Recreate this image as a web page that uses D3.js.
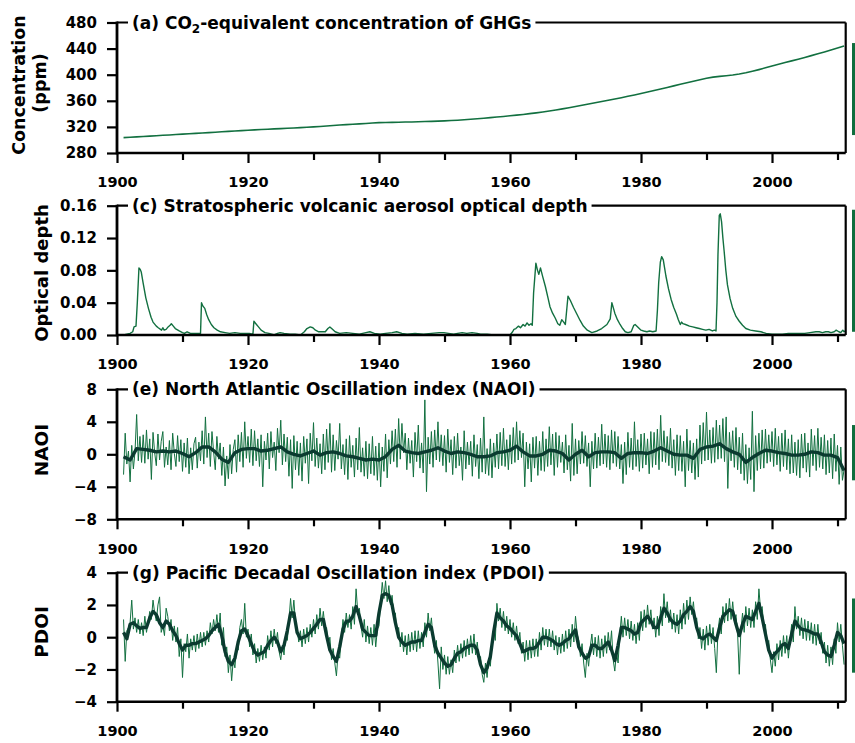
<!DOCTYPE html>
<html>
<head>
<meta charset="utf-8">
<script src="https://cdn.jsdelivr.net/npm/d3@7/dist/d3.min.js"></script>
<style>
  body { margin: 0; background: #fff; }
  svg { display: block; }
  .tick text { font-family: "DejaVu Sans", Verdana, sans-serif; font-weight: bold; fill: #000; }
</style>
</head>
<body>
<svg id="chart" width="855" height="743"></svg>
<script>
// ---- shared axis values ----
const xMajorYears = [1900, 1920, 1940, 1960, 1980, 2000];
const xMinorYears = [1910, 1930, 1950, 1970, 1990, 2010];

// ---- (a) CO2-equivalent concentration, ppm, annual 1901-2011 ----
const co2Start = 1901;
const co2Values = [
  303.5, 304.1, 304.7, 305.3, 305.9, 306.5, 307.1, 307.7, 308.3, 308.9,
  309.5, 310.1, 310.7, 311.3, 311.9, 312.5, 313.1, 313.7, 314.3, 314.9,
  315.4, 315.9, 316.4, 316.9, 317.4, 317.9, 318.4, 318.9, 319.4, 320.0,
  320.7, 321.4, 322.1, 322.8, 323.5, 324.1, 324.7, 325.3, 325.9, 326.5,
  326.8, 327.0, 327.2, 327.4, 327.6, 327.9, 328.2, 328.5, 328.8, 329.2,
  329.7, 330.3, 331.0, 331.7, 332.5, 333.3, 334.2, 335.1, 336.0, 337.0,
  338.0, 339.1, 340.3, 341.5, 342.8, 344.3, 345.9, 347.6, 349.4, 351.3,
  353.2, 355.1, 357.0, 358.9, 360.8, 362.8, 364.8, 366.9, 369.0, 371.2,
  373.5, 375.8, 378.1, 380.5, 382.9, 385.3, 387.7, 390.0, 392.4, 394.6,
  396.3, 397.5, 398.5, 399.6, 401.0, 402.9, 405.3, 407.8, 410.5, 413.4,
  416.0, 418.6, 421.2, 423.8, 426.5, 429.2, 432.0, 434.9, 437.8, 440.8, 444.0
];
const co2Ticks = [280, 320, 360, 400, 440, 480];

// ---- (c) stratospheric volcanic aerosol optical depth, [year, AOD] ----
const aodSeries = [
  [1901.0,0.000],[1901.5,0.001],[1902.0,0.002],[1902.4,0.004],[1902.6,0.010],[1902.9,0.011],
  [1903.1,0.040],[1903.35,0.083],[1903.55,0.081],[1903.7,0.078],[1904.0,0.064],[1904.4,0.046],
  [1904.8,0.033],[1905.2,0.022],[1905.5,0.016],[1906.0,0.011],[1906.3,0.009],[1906.8,0.006],
  [1907.0,0.009],[1907.2,0.006],[1907.5,0.007],[1907.8,0.010],[1908.1,0.012],[1908.3,0.014],
  [1908.6,0.011],[1908.9,0.008],[1909.5,0.005],[1910.0,0.003],[1910.3,0.002],[1910.7,0.004],
  [1911.2,0.002],[1911.8,0.002],[1912.4,0.002],[1912.75,0.002],[1912.9,0.040],[1913.1,0.036],
  [1913.4,0.033],[1913.7,0.025],[1914.0,0.019],[1914.4,0.013],[1914.8,0.009],[1915.3,0.006],
  [1915.8,0.004],[1916.5,0.003],[1917.2,0.002],[1918.0,0.003],[1918.8,0.002],[1919.5,0.002],
  [1920.2,0.002],[1920.75,0.001],[1920.9,0.017],[1921.2,0.014],[1921.6,0.010],[1922.0,0.006],
  [1922.6,0.003],[1923.2,0.002],[1924.0,0.000],[1924.5,0.002],[1924.9,0.003],[1925.5,0.002],
  [1926.4,0.001],[1927.2,0.001],[1928.0,0.000],[1928.6,0.004],[1929.0,0.008],[1929.5,0.010],
  [1929.9,0.009],[1930.3,0.006],[1930.8,0.004],[1931.3,0.004],[1931.8,0.004],[1932.2,0.008],
  [1932.5,0.010],[1932.9,0.007],[1933.3,0.004],[1934.0,0.002],[1935.0,0.003],[1936.0,0.002],
  [1937.0,0.001],[1938.0,0.003],[1938.6,0.004],[1939.3,0.002],[1940.2,0.001],[1941.0,0.002],
  [1942.0,0.003],[1942.7,0.004],[1943.5,0.002],[1944.3,0.001],[1945.5,0.002],[1946.8,0.001],
  [1948.0,0.002],[1949.2,0.003],[1949.9,0.003],[1950.6,0.002],[1951.4,0.001],[1952.0,0.002],
  [1952.7,0.003],[1953.4,0.002],[1954.2,0.003],[1955.0,0.002],[1955.5,0.001],[1956.5,0.001],
  [1957.5,0.000],[1958.5,0.000],[1959.5,0.000],[1960.0,0.000],[1960.4,0.004],[1960.6,0.007],
  [1960.9,0.008],[1961.3,0.011],[1961.6,0.009],[1962.0,0.013],[1962.3,0.011],[1962.6,0.015],
  [1962.9,0.012],[1963.2,0.014],[1963.4,0.012],[1963.6,0.052],[1963.95,0.089],[1964.2,0.080],
  [1964.4,0.075],[1964.65,0.083],[1965.0,0.072],[1965.4,0.060],[1965.8,0.046],[1966.1,0.035],
  [1966.5,0.027],[1966.9,0.021],[1967.3,0.014],[1967.6,0.012],[1967.9,0.019],[1968.2,0.016],
  [1968.45,0.013],[1968.85,0.048],[1969.2,0.043],[1969.7,0.034],[1970.2,0.026],[1970.7,0.018],
  [1971.2,0.011],[1971.8,0.006],[1972.5,0.003],[1973.3,0.005],[1974.0,0.008],[1974.8,0.013],
  [1975.3,0.020],[1975.55,0.040],[1975.8,0.033],[1976.0,0.027],[1976.4,0.019],[1976.8,0.013],
  [1977.2,0.008],[1977.6,0.004],[1978.0,0.003],[1978.5,0.004],[1978.9,0.012],[1979.1,0.013],
  [1979.5,0.010],[1980.0,0.006],[1980.4,0.005],[1980.9,0.004],[1981.3,0.005],[1981.8,0.004],
  [1982.3,0.005],[1982.5,0.030],[1982.7,0.065],[1982.95,0.090],[1983.15,0.097],[1983.4,0.093],
  [1983.6,0.083],[1983.8,0.073],[1984.2,0.057],[1984.6,0.044],[1985.0,0.034],[1985.4,0.026],
  [1985.7,0.019],[1986.0,0.013],[1986.2,0.016],[1986.4,0.014],[1986.8,0.013],[1987.4,0.011],
  [1987.9,0.010],[1988.4,0.009],[1988.9,0.008],[1989.4,0.007],[1989.9,0.006],[1990.4,0.007],
  [1990.9,0.005],[1991.2,0.006],[1991.45,0.005],[1991.6,0.040],[1991.75,0.100],[1991.95,0.148],
  [1992.1,0.150],[1992.3,0.140],[1992.5,0.120],[1992.7,0.103],[1992.95,0.080],[1993.2,0.062],
  [1993.6,0.045],[1994.0,0.033],[1994.5,0.023],[1995.0,0.017],[1995.5,0.012],[1996.0,0.008],
  [1996.7,0.006],[1997.5,0.005],[1998.3,0.004],[1999.1,0.002],[2000.0,0.001],[2001.0,0.001],
  [2001.6,0.001],[2002.5,0.002],[2003.3,0.002],[2004.2,0.002],[2005.0,0.002],[2005.8,0.003],
  [2006.7,0.004],[2007.2,0.004],[2007.7,0.003],[2008.2,0.004],[2008.6,0.004],[2009.0,0.003],
  [2009.5,0.004],[2009.8,0.006],[2010.2,0.004],[2010.5,0.003],[2010.8,0.006],[2011.0,0.004],
  [2011.2,0.005]
];
const aodTicks = [0, 0.04, 0.08, 0.12, 0.16];

// ---- (e) NAO index: quarterly values from 1901.0, plus annual smoothed ----
const naoStart = 1901, naoStep = 0.25;
const naoRaw = [
  // 1901-1910
  -2.5, 2.6, -1.2, 0.4, -3.4, 1.1, -1.8, 0.3, 4.9, -0.8, 2.2, -1.0, 2.4, -1.1, 3.0, -0.6, 1.9, -3.1, 2.7, 0.2,
  -1.4, 2.5, -0.7, 1.6, 2.8, -1.6, 0.9, -1.3, 1.7, -1.9, 2.6, 0.1, -1.5, 2.3, -0.9, 1.8, -2.1, 1.4, -1.6, 2.0,
  // 1911-1920
  -2.4, 0.8, -1.9, 1.3, 2.1, -1.7, 1.5, -0.8, 2.9, -1.2, 4.6, -0.4, 2.6, -1.5, 2.8, 0.3, -1.9, 2.2, -0.6, 1.4,
  -2.6, 0.9, -3.9, -0.2, -3.0, 1.2, -2.4, 0.6, 1.8, -2.2, 2.4, -0.9, 2.7, -1.6, 4.0, -0.5, 2.2, -1.0, 3.1, -1.4,
  // 1921-1930
  2.9, -0.8, 1.9, -1.5, 2.4, -4.0, 1.6, -0.7, 2.6, -1.8, 2.8, -0.4, 1.5, -2.0, 3.2, 0.2, 4.2, -1.3, 2.5, -0.9,
  2.1, -2.7, 1.8, -4.2, 2.3, -1.9, 1.6, -2.6, 1.4, -3.3, 2.2, -1.1, 1.9, -3.6, 2.6, -0.8, 3.9, -1.5, 2.0, -1.7,
  // 1931-1940
  1.3, -2.4, 2.5, -1.9, 3.1, -1.0, 3.8, -2.2, 2.4, -2.0, 1.7, -0.6, 3.8, -1.8, 1.2, -2.5, 1.9, -3.1, 2.3, -1.6,
  1.1, -2.8, 2.0, -1.9, 3.3, -2.2, 0.8, -2.7, 1.6, -3.0, 1.3, -2.4, 2.2, -2.6, 1.0, -3.2, 1.4, -4.0, 0.9, -2.1,
  // 1941-1950
  2.5, -2.9, 1.8, -1.2, 2.9, -0.9, 3.1, -1.6, 4.4, -0.6, 3.8, 0.2, 2.6, -1.9, 2.0, -1.1, 1.7, -2.8, 2.7, -0.9,
  3.6, -1.7, 1.4, -2.3, 6.7, -4.6, 2.1, -1.2, 2.8, -1.6, 3.0, -0.7, 4.0, -0.9, 2.4, -1.4, 2.3, -2.2, 3.1, -1.0,
  // 1951-1960
  1.8, -2.5, 2.2, -1.7, 2.6, -1.4, 0.9, -3.2, 2.9, -1.8, 1.5, -1.3, 1.6, -2.7, 2.4, -1.5, 1.2, -3.0, 2.0, -2.2,
  4.6, -2.4, 0.7, -2.6, 1.9, -2.9, 1.4, -1.6, 2.5, -1.8, 2.7, -1.4, 3.2, -1.5, 1.8, -1.9, 2.4, -1.2, 3.3, -1.0,
  // 1961-1970
  4.0, -0.7, 2.9, -0.4, 2.6, -4.0, 1.5, -1.8, 1.3, -3.4, 2.1, -1.7, 2.2, -2.6, 1.6, -2.0, 2.8, -2.1, 1.9, -1.5,
  3.4, -1.3, 2.5, -2.6, 2.7, -1.6, 2.3, -1.0, 1.5, -2.3, 2.4, -1.9, 1.1, -3.3, 3.8, -2.6, 1.9, -2.4, 1.7, -1.2,
  // 1971-1980
  2.8, -1.1, 2.3, -1.5, 1.4, -4.0, 1.6, -1.8, 2.6, -1.7, 2.1, -1.4, 3.7, -1.2, 2.5, -1.6, 2.3, -1.9, 3.0, -1.1,
  2.8, -1.5, 2.2, -1.8, 1.2, -3.6, 1.5, -2.5, 2.7, -1.6, 2.0, -1.9, 4.0, -1.5, 1.8, -2.1, 2.5, -1.7, 2.6, -1.3,
  // 1981-1990
  1.9, -2.4, 2.8, -1.6, 2.7, -1.3, 3.1, -1.9, 4.8, -0.9, 2.9, -1.0, 2.2, -1.4, 3.2, -1.7, 1.8, -2.6, 2.4, -2.0,
  2.3, -2.1, 1.6, -4.0, 3.1, -2.0, 1.7, -2.3, 1.4, -3.1, 1.9, -2.8, 3.6, -1.2, 3.9, -0.8, 5.2, -0.7, 3.0, -1.1,
  // 1991-2000
  3.3, -1.0, 4.2, -0.6, 3.6, -0.5, 4.4, -0.9, 4.6, -4.2, 2.7, -0.8, 2.9, -1.6, 3.3, -1.9, 2.1, -2.4, 2.6, -3.2,
  1.2, -3.6, 0.8, -3.1, 5.3, -4.6, 2.3, -2.0, 2.6, -1.8, 3.0, -1.7, 3.1, -1.1, 2.4, -0.9, 2.8, -1.5, 3.2, -1.3,
  // 2001-2010
  2.2, -2.1, 2.6, -1.5, 3.0, -1.9, 1.9, -2.4, 2.4, -2.3, 1.5, -2.6, 1.8, -2.9, 2.5, -1.7, 2.6, -2.2, 1.4, -2.8,
  3.1, -1.4, 2.3, -2.0, 3.2, -1.6, 2.1, -1.8, 2.4, -2.5, 1.7, -2.3, 2.0, -3.0, 2.5, -2.1, 1.1, -3.7, 0.9, -3.2,
  // 2011
  -1.9
];
const naoSmoothStart = 1901, naoSmoothStep = 1;
const naoSmooth = [
  -0.3, -0.7, 0.7, 0.6, 0.5, 0.3, 0.4, 0.3, 0.4, 0.1,
  -0.3, 0.2, 0.9, 0.9, 0.3, -0.6, -1.0, 0.2, 0.6, 0.7,
  0.7, 0.4, 0.5, 0.7, 0.9, 0.3, 0.0, -0.2, 0.1, 0.4,
  -0.1, 0.2, 0.3, 0.1, -0.2, -0.3, -0.5, -0.7, -0.6, -0.7,
  -0.3, 0.6, 1.1, 0.4, 0.2, 0.1, 0.3, 0.5, 0.8, 0.4,
  0.1, 0.3, 0.2, 0.0, -0.3, -0.3, -0.2, 0.2, 0.3, 0.5,
  1.0, 0.3, -0.2, -0.2, 0.0, 0.5, 0.4, 0.1, -0.7, 0.0,
  0.5, -0.3, 0.2, 0.3, 0.3, 0.2, -0.5, 0.1, 0.2, 0.2,
  0.1, 0.4, 0.8, 0.4, 0.0, -0.1, -0.1, -0.5, 0.6, 0.9,
  1.0, 1.3, 0.7, 0.3, 0.0, -1.0, -0.4, 0.1, 0.5, 0.4,
  0.2, 0.1, -0.1, -0.1, 0.0, 0.3, 0.2, -0.1, -0.1, -0.4, -2.0
];
const naoTicks = [-8, -4, 0, 4, 8];

// ---- (g) PDO index: quarterly values from 1901.0, plus half-yearly smoothed ----
const pdoStart = 1901, pdoStep = 0.25;
const pdoRaw = [
  // 1901-1910
  1.1, -1.5, 0.4, 0.6, 0.9, 2.3, 0.5, 1.2, 0.3, 1.1, 0.2, 0.9, 0.1, 1.3, 0.3, 0.9, 1.6, 1.1, 2.3, 1.5,
  1.0, 2.0, 2.5, 0.3, 0.7, 0.1, 1.8, 1.3, 0.4, 1.1, -0.2, 0.7, -0.3, 0.6, -1.2, -0.1, -2.5, -0.4, -0.9, 0.2,
  // 1911-1920
  -1.3, -0.1, -0.8, 0.1, -0.9, 0.2, -0.7, 0.3, -0.6, 0.3, -0.5, 0.4, -0.3, 0.9, 0.2, 1.1, 0.4, 1.4, 0.3, 1.5,
  -0.5, 0.6, -1.2, -0.6, -2.2, -1.1, -2.7, -1.4, -1.9, -0.6, -0.8, 0.6, 1.1, 0.2, 2.1, 0.0, 0.5, -0.6, 0.2, -1.1,
  // 1921-1930
  -0.4, -1.6, -0.7, -1.5, -0.5, -1.4, -0.6, -1.3, 0.1, -0.8, 0.4, -0.6, 0.5, -0.4, 0.3, -0.9, -1.4, -0.5, -1.1, 0.2,
  -0.2, 1.0, 2.4, 1.2, 2.3, 0.9, 0.5, -0.3, 0.4, -0.6, 0.5, -0.4, 0.6, -0.3, 0.8, 0.0, 1.1, 0.2, 1.4, 0.5,
  // 1931-1940
  1.8, 0.7, 1.6, 0.6, 0.6, -0.5, 0.0, -1.4, -0.7, -1.6, -2.4, -1.0, -1.3, 0.0, 1.1, 0.3, 1.5, 0.6, 1.4, 0.5,
  1.9, 0.8, 3.0, 1.6, 1.8, 0.7, 0.0, 1.1, -0.3, 0.7, -0.4, 0.6, -0.5, 0.8, -0.6, 0.5, 0.7, 2.2, 3.4, 2.4,
  // 1941-1950
  3.5, 2.2, 3.2, 2.0, 2.6, 1.4, 1.5, 0.3, 0.6, -0.6, 0.3, -0.9, 0.1, -1.1, 0.2, -0.9, 0.3, -0.8, 0.4, -0.9,
  0.4, -0.7, 0.3, -0.6, 0.9, 0.0, 1.5, 0.4, 1.2, -0.1, -1.0, -0.2, -1.6, -3.2, -0.6, -2.0, -1.1, -2.3, -1.2, -2.3,
  // 1951-1960
  -1.4, -2.2, -0.8, -1.6, -0.5, -1.5, -0.4, -1.3, -0.2, -1.2, -0.1, -1.1, 0.1, -1.0, 0.2, -1.1, -0.3, -1.4, -1.2, -2.3,
  -2.8, -1.6, -2.5, -1.3, -1.8, -0.5, 0.5, -0.2, 2.1, 1.0, 1.8, 0.6, 1.6, 0.4, 1.3, 0.2, 1.1, 0.0, 0.9, -0.2,
  // 1961-1970
  0.7, -0.4, 0.3, -1.0, -0.3, -1.5, -0.2, -1.4, -0.2, -1.3, -0.1, -1.2, -0.1, -1.2, 0.3, -0.8, 0.6, -0.5, 0.5, -0.6,
  0.5, -0.6, 0.4, -0.8, 0.1, -1.1, 0.0, -1.0, 0.2, -0.9, 0.4, -0.7, 0.5, -0.6, 0.8, -0.3, 1.3, 0.2, -0.2, -1.2,
  // 1971-1980
  -0.4, -1.6, -2.5, -1.0, -1.8, -0.6, 0.2, -1.1, 0.0, -1.2, 0.1, -1.3, -0.1, -1.2, 0.1, -1.0, 0.3, -0.8, 0.4, -1.4,
  -2.1, -0.9, -1.6, 0.1, 1.3, 0.0, 1.2, 0.1, 1.1, -0.1, 1.0, -0.2, 0.8, -0.4, 0.9, -0.2, 1.6, 0.4, 1.7, 0.6,
  // 1981-1990
  2.0, 0.8, 1.7, 0.5, 1.2, 0.0, 1.3, 0.1, 1.9, 0.7, 2.7, 1.2, 2.2, 0.9, 1.7, 0.5, 1.5, 0.3, 1.4, 0.2,
  1.7, 0.5, 2.1, 0.8, 2.3, 1.1, 2.5, 1.4, 2.2, 1.0, 1.2, -0.1, 0.6, -0.7, 0.5, -0.8, 0.7, -0.5, 0.8, -0.4,
  // 1991-2000
  0.6, -0.7, -2.2, 0.4, 1.2, 0.2, 1.9, 0.9, 2.1, 1.0, 2.4, 1.1, 2.2, 1.0, 1.4, 0.2, -2.3, 0.4, 1.5, 0.3,
  1.9, 0.7, 1.8, 0.6, 1.7, 0.6, 2.2, 1.1, 3.0, 1.7, 1.9, 0.6, 0.8, -0.5, -0.2, -1.4, -2.2, -0.9, -1.8, -0.4,
  // 2001-2010
  -1.4, -0.2, -1.2, 0.1, -1.0, 0.1, -1.3, -0.2, 0.8, -0.3, 1.9, 0.5, 1.3, 0.1, 1.2, -0.1, 1.1, -0.2, 1.0, -0.2,
  0.9, -0.4, 0.8, -0.5, 0.8, -0.4, 0.3, -1.0, -0.3, -1.6, -0.5, -1.8, -0.6, -1.7, -0.1, -1.0, 0.9, -0.3, 0.8, -0.5,
  // 2011
  -1.7
];
const pdoSmoothStart = 1901, pdoSmoothStep = 0.5;
const pdoSmooth = [
  0.3, -0.1, 0.8, 0.9, 0.7, 0.55, 0.6, 0.6, 1.2, 1.6,
  1.4, 0.9, 0.6, 1.0, 0.8, 0.4, 0.1, -0.4, -0.8, -0.5,
  -0.5, -0.4, -0.4, -0.3, -0.2, -0.1, 0.1, 0.4, 0.6, 0.8,
  0.1, -0.9, -1.5, -1.7, -1.3, -0.3, 0.4, 0.5, 0.1, -0.4,
  -0.9, -1.1, -1.0, -0.9, -0.5, -0.2, 0.0, -0.3, -0.9, -0.5,
  0.4, 1.5, 1.5, 0.3, -0.1, 0.0, 0.1, 0.3, 0.55, 0.8,
  1.1, 1.1, 0.1, -0.8, -1.2, -1.5, -0.6, 0.5, 1.0, 1.0,
  1.3, 1.9, 1.3, 0.5, 0.3, 0.1, 0.1, 0.1, 1.5, 2.6,
  2.7, 2.6, 2.0, 0.9, 0.0, -0.3, -0.5, -0.4, -0.3, -0.3,
  -0.2, -0.2, 0.3, 0.8, 0.6, -0.5, -1.0, -1.3, -1.6, -1.8,
  -1.7, -1.3, -1.0, -0.9, -0.7, -0.6, -0.5, -0.5, -0.8, -1.7,
  -2.2, -1.9, -1.2, 0.3, 1.5, 1.2, 1.0, 0.7, 0.55, 0.3,
  0.1, -0.4, -0.9, -0.8, -0.7, -0.7, -0.6, -0.3, 0.0, 0.0,
  -0.1, -0.2, -0.4, -0.5, -0.4, -0.2, -0.1, 0.2, 0.45, -0.6,
  -1.0, -1.3, -1.2, -0.5, -0.5, -0.7, -0.7, -0.5, -0.3, -0.8,
  -1.45, -0.5, 0.6, 0.6, 0.5, 0.4, 0.2, 0.3, 0.9, 1.1,
  1.3, 1.0, 0.6, 0.6, 1.2, 1.8, 1.5, 1.1, 0.9, 0.8,
  1.0, 1.4, 1.6, 1.9, 1.6, 0.6, 0.0, -0.1, 0.1, 0.2,
  0.0, -0.2, 0.6, 1.3, 1.5, 1.7, 1.6, 0.8, 0.1, 0.8,
  1.3, 1.2, 1.1, 1.6, 2.1, 1.2, 0.2, -0.8, -1.3, -1.0,
  -0.8, -0.5, -0.4, -0.7, 0.2, 1.0, 0.7, 0.5, 0.45, 0.4,
  0.3, 0.2, 0.2, -0.3, -0.9, -1.1, -1.2, -0.5, 0.3, 0.1,
  -0.4
];
const pdoTicks = [-4, -2, 0, 2, 4];

// ---- green range bars at the right edge (value extents per panel) ----
const co2Range = [307.5, 448.5];
const aodRange = [0.004, 0.155];
const naoRange = [-3.2, 3.6];
const pdoRange = [-2.2, 2.4];

// ---- helpers ----
const toPoints = (vals, start, step) => vals.map((v, i) => [start + i * step, v]);

const RAW = "#127040";
const SMOOTH = "#0b3b30";
const BAR = "#0f6e3d";

const left = 117, right = 845.7;
const x = d3.scaleLinear().domain([1900, 2011.25]).range([left, right]);

const panels = [
  { top: 22.5, bottom: 153, domain: [280, 480], ticks: co2Ticks, fmt: d3.format("d"),
    title: ["(a) CO", "2", "-equivalent concentration of GHGs"],
    ylabel: [["Concentration", 25, 85, 17.5], ["(ppm)", 46, 83, 17.5]],
    range: co2Range,
    series: [{ pts: toPoints(co2Values, co2Start, 1), color: RAW, width: 1.6 }] },
  { top: 205.7, bottom: 335, domain: [0, 0.16], ticks: aodTicks, fmt: d3.format(".2f"),
    title: ["(c) Stratospheric volcanic aerosol optical depth"],
    ylabel: [["Optical depth", 48, 273, 18]],
    range: aodRange,
    series: [{ pts: aodSeries, color: RAW, width: 1.4 }] },
  { top: 389.3, bottom: 519.3, domain: [-8, 8], ticks: naoTicks, fmt: d3.format("d"),
    title: ["(e) North Atlantic Oscillation index (NAOI)"],
    ylabel: [["NAOI", 48, 450, 18.5]],
    range: naoRange,
    series: [{ pts: toPoints(naoRaw, naoStart, naoStep), color: RAW, width: 1.0 },
             { pts: toPoints(naoSmooth, naoSmoothStart, naoSmoothStep), color: SMOOTH, width: 3.4 }] },
  { top: 572.7, bottom: 701.7, domain: [-4, 4], ticks: pdoTicks, fmt: d3.format("d"),
    title: ["(g) Pacific Decadal Oscillation index (PDOI)"],
    ylabel: [["PDOI", 48, 632, 18.5]],
    range: pdoRange,
    series: [{ pts: toPoints(pdoRaw, pdoStart, pdoStep), color: RAW, width: 1.0 },
             { pts: toPoints(pdoSmooth, pdoSmoothStart, pdoSmoothStep), color: SMOOTH, width: 3.4 }] }
];

const svg = d3.select("#chart");
const TEXT_FONT = "'DejaVu Sans', Verdana, sans-serif";

panels.forEach(p => {
  const y = d3.scaleLinear().domain(p.domain).range([p.bottom, p.top]);
  const g = svg.append("g");

  // data lines
  p.series.forEach(s => {
    g.append("path")
      .datum(s.pts)
      .attr("fill", "none")
      .attr("stroke", s.color)
      .attr("stroke-width", s.width)
      .attr("stroke-linejoin", "round")
      .attr("d", d3.line().x(d => x(d[0])).y(d => y(d[1])));
  });

  // top and right frame
  g.append("line").attr("x1", left).attr("x2", right).attr("y1", p.top).attr("y2", p.top)
    .attr("stroke", "#000").attr("stroke-width", 2.2);
  g.append("line").attr("x1", right).attr("x2", right).attr("y1", p.top).attr("y2", p.bottom)
    .attr("stroke", "#000").attr("stroke-width", 2.2);

  // bottom axis: labelled and unlabelled ticks
  const major = g.append("g").attr("transform", `translate(0,${p.bottom})`)
    .call(d3.axisBottom(x).tickValues(xMajorYears).tickSize(10).tickPadding(14).tickFormat(d3.format("d")));
  const minor = g.append("g").attr("transform", `translate(0,${p.bottom})`)
    .call(d3.axisBottom(x).tickValues(xMinorYears).tickSize(7).tickFormat(""));
  [major, minor].forEach(a => {
    a.select(".domain").remove();
    a.selectAll(".tick line").attr("stroke", "#000").attr("stroke-width", 2.2);
  });
  major.selectAll(".tick text").style("font-size", "14.5px");
  g.append("line").attr("x1", left).attr("x2", right).attr("y1", p.bottom).attr("y2", p.bottom)
    .attr("stroke", "#000").attr("stroke-width", 2.6);

  // left axis
  const yAxis = g.append("g").attr("transform", `translate(${left},0)`)
    .call(d3.axisLeft(y).tickValues(p.ticks).tickSize(10).tickPadding(10).tickFormat(p.fmt));
  yAxis.select(".domain").remove();
  yAxis.selectAll(".tick line").attr("stroke", "#000").attr("stroke-width", 2.2);
  yAxis.selectAll(".tick text").style("font-size", "15px");
  g.append("line").attr("x1", left).attr("x2", left).attr("y1", p.top - 1).attr("y2", p.bottom + 1.3)
    .attr("stroke", "#000").attr("stroke-width", 2.8);

  // panel title sitting on the top frame line
  const tg = g.append("g");
  const bg = tg.append("rect").attr("fill", "#fff");
  const t = tg.append("text")
    .attr("x", 132).attr("y", p.top + 6)
    .style("font-family", TEXT_FONT).style("font-weight", 700).style("font-size", "17px")
    .attr("fill", "#000");
  if (p.title.length === 3) {
    t.append("tspan").text(p.title[0]);
    t.append("tspan").text(p.title[1]).style("font-size", "12px").attr("dy", 4);
    t.append("tspan").text(p.title[2]).attr("dy", -4);
  } else {
    t.text(p.title[0]);
  }
  const bb = t.node().getBBox();
  bg.attr("x", bb.x - 4).attr("y", p.top - 3).attr("width", bb.width + 8).attr("height", 6);

  // rotated y-axis label(s)
  p.ylabel.forEach(([txt, lx, ly, fs]) => {
    g.append("text")
      .attr("transform", `translate(${lx},${ly}) rotate(-90)`)
      .attr("text-anchor", "middle")
      .style("font-family", TEXT_FONT).style("font-weight", 700).style("font-size", fs + "px")
      .attr("fill", "#000")
      .text(txt);
  });

  // green extent bar to the right of the panel
  g.append("rect")
    .attr("x", 852).attr("width", 4)
    .attr("y", y(p.range[1])).attr("height", y(p.range[0]) - y(p.range[1]))
    .attr("fill", BAR);
});
</script>
</body>
</html>
